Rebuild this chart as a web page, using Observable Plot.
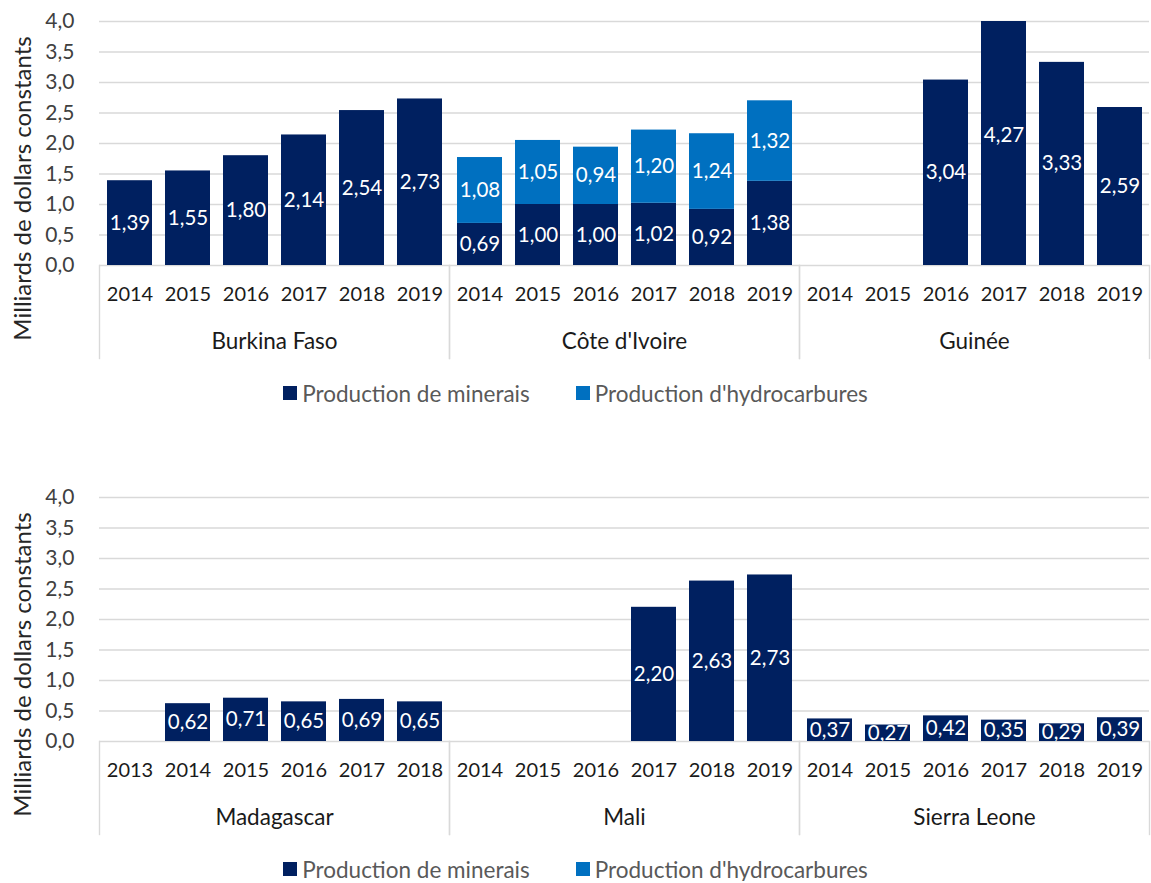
<!DOCTYPE html>
<html><head><meta charset="utf-8">
<script src="https://cdn.jsdelivr.net/npm/d3@7"></script>
<script src="https://cdn.jsdelivr.net/npm/@observablehq/plot@0.6"></script>
<style>
body{margin:0;background:#fff;font-family:Lato,sans-serif;}
.legend{display:flex;justify-content:center;align-items:center;height:24px;margin-top:16px;font-size:22.5px;color:#595959;width:1151px;}
.legend .item{display:flex;align-items:center;margin:0 23px;}
.legend .sw{width:14px;height:14px;margin-right:5px;}
.spacer{height:71px;}
</style></head><body><div id="chart"></div>
<script>
// ---- data ----
const seriesNames = ["Production de minerais", "Production d'hydrocarbures"];
const seriesColors = ["#002060", "#0070C0"];
const yLabel = "Milliards de dollars constants";
const yTicks = [0, 0.5, 1, 1.5, 2, 2.5, 3, 3.5, 4];

const topCountries = ["Burkina Faso", "Côte d'Ivoire", "Guinée"];
const bottomCountries = ["Madagascar", "Mali", "Sierra Leone"];

const years2014to2019 = ["2014", "2015", "2016", "2017", "2018", "2019"];
const years2013to2018 = ["2013", "2014", "2015", "2016", "2017", "2018"];

const burkinaMinerais = [1.39, 1.55, 1.80, 2.14, 2.54, 2.73];
const coteMinerais = [0.69, 1.00, 1.00, 1.02, 0.92, 1.38];
const coteHydro = [1.08, 1.05, 0.94, 1.20, 1.24, 1.32];
const guineeMinerais = [null, null, 3.04, 4.27, 3.33, 2.59];
const madagascarMinerais = [null, 0.62, 0.71, 0.65, 0.69, 0.65];
const maliMinerais = [null, null, null, 2.20, 2.63, 2.73];
const sierraMinerais = [0.37, 0.27, 0.42, 0.35, 0.29, 0.39];

// ---- build tables ----
function group(country, years, minerais, hydro) {
  return {country, years, minerais, hydro};
}
const topGroups = [
  group("Burkina Faso", years2014to2019, burkinaMinerais, null),
  group("Côte d'Ivoire", years2014to2019, coteMinerais, coteHydro),
  group("Guinée", years2014to2019, guineeMinerais, null)
];
const bottomGroups = [
  group("Madagascar", years2013to2018, madagascarMinerais, null),
  group("Mali", years2014to2019, maliMinerais, null),
  group("Sierra Leone", years2014to2019, sierraMinerais, null)
];

const fmt = (v) => v.toFixed(2).replace(".", ",");

function makeChart(countries, groups) {
  const rows = [];
  const yearRows = [];
  for (const g of groups) {
    g.years.forEach((yr, i) => {
      yearRows.push({country: g.country, slot: i, year: yr});
      if (g.minerais && g.minerais[i] != null) rows.push({country: g.country, slot: i, series: seriesNames[0], value: g.minerais[i]});
      if (g.hydro && g.hydro[i] != null) rows.push({country: g.country, slot: i, series: seriesNames[1], value: g.hydro[i]});
    });
  }
  const slots = d3.range(6);
  return Plot.plot({
    width: 1151, height: 365,
    marginTop: 21, marginBottom: 100, marginLeft: 98, marginRight: 1,
    style: {fontFamily: "Lato, sans-serif", fontSize: "20px", background: "white", overflow: "visible"},
    fx: {domain: countries, padding: 0, axis: null},
    x: {type: "band", domain: slots, paddingInner: 0.23, paddingOuter: 0.115, axis: null},
    y: {domain: [0, 4], axis: null},
    color: {domain: seriesNames, range: seriesColors},
    marks: [
      Plot.gridY(yTicks, {stroke: "#d9d9d9", strokeOpacity: 1, strokeWidth: 1.4}),
      Plot.frame({anchor: "left", stroke: "#d9d9d9", strokeWidth: 1.4, insetTop: 244, insetBottom: -93}),
      Plot.frame({anchor: "right", stroke: "#d9d9d9", strokeWidth: 1.4, insetTop: 244, insetBottom: -93}),
      Plot.barY(rows, Plot.stackY({fx: "country", x: "slot", y: "value", z: "series", fill: "series", clip: true})),
      Plot.text(rows, Plot.stackY({fx: "country", x: "slot", y: "value", z: "series", text: (d) => fmt(d.value), fill: "white", fontSize: 20.5, clip: true})),
      Plot.axisY({ticks: yTicks, tickSize: 0, tickPadding: 25, tickFormat: (d) => d.toFixed(1).replace(".", ","), fontSize: 21, color: "#404040", label: null}),
      Plot.text(yearRows, {fx: "country", x: "slot", text: "year", frameAnchor: "bottom", dy: 35, fontSize: 20, fill: "#1a1a1a"}),
      Plot.text(countries, {fx: (d) => d, text: (d) => d, frameAnchor: "bottom", dy: 83, fontSize: 22.5, fill: "#1a1a1a"}),
      Plot.text([countries[0]], {fx: (d) => d, text: () => yLabel, frameAnchor: "left", textAnchor: "middle", rotate: -90, dx: -76, dy: 45, fontSize: 24, fill: "#262626"})
    ]
  });
}

function makeLegend() {
  const div = document.createElement("div");
  div.className = "legend";
  seriesNames.forEach((name, i) => {
    const item = document.createElement("span");
    item.className = "item";
    const sw = document.createElement("span");
    sw.className = "sw";
    sw.style.background = seriesColors[i];
    const label = document.createElement("span");
    label.textContent = name;
    item.appendChild(sw);
    item.appendChild(label);
    div.appendChild(item);
  });
  return div;
}

const root = document.getElementById("chart");
root.appendChild(makeChart(topCountries, topGroups));
root.appendChild(makeLegend());
const sp = document.createElement("div"); sp.className = "spacer"; root.appendChild(sp);
root.appendChild(makeChart(bottomCountries, bottomGroups));
root.appendChild(makeLegend());
</script></body></html>
